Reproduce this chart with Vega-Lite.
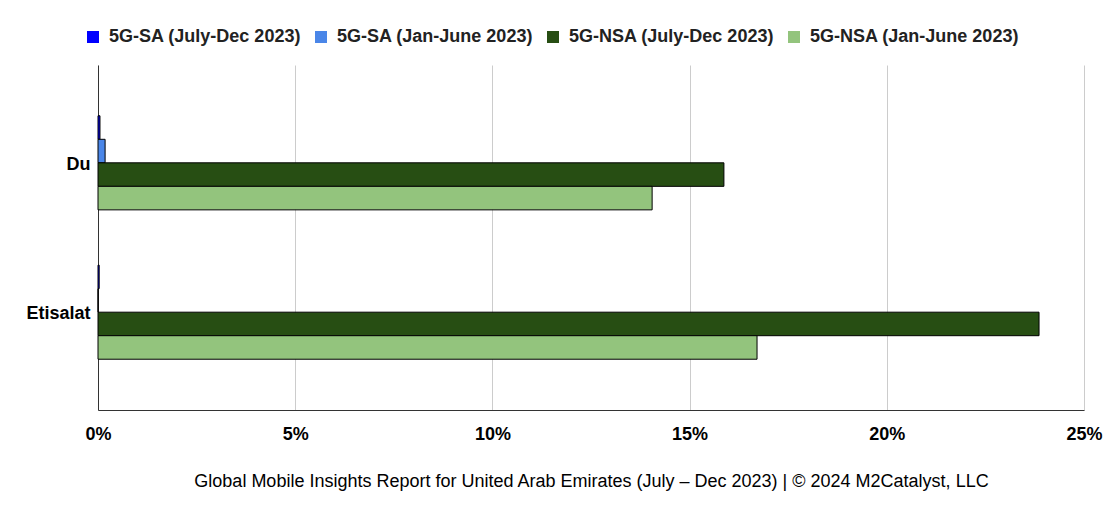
{
  "$schema": "https://vega.github.io/schema/vega-lite/v6.json",
  "width": 986,
  "height": 345,
  "autosize": {"type": "none"},
  "padding": {"left": 98, "top": 65, "right": 26, "bottom": 107},
  "background": "white",
  "config": {
    "font": "Liberation Sans",
    "view": {"stroke": null},
    "axis": {"labelFont": "Liberation Sans", "titleFont": "Liberation Sans"},
    "legend": {"labelFont": "Liberation Sans"}
  },
  "data": {
    "values": [
      {"operator": "Du", "network": "5G-SA (July-Dec 2023)", "share": 0.0005},
      {"operator": "Du", "network": "5G-SA (Jan-June 2023)", "share": 0.0018},
      {"operator": "Du", "network": "5G-NSA (July-Dec 2023)", "share": 0.1587},
      {"operator": "Du", "network": "5G-NSA (Jan-June 2023)", "share": 0.1405},
      {"operator": "Etisalat", "network": "5G-SA (July-Dec 2023)", "share": 0.0003},
      {"operator": "Etisalat", "network": "5G-SA (Jan-June 2023)", "share": 0},
      {"operator": "Etisalat", "network": "5G-NSA (July-Dec 2023)", "share": 0.2386},
      {"operator": "Etisalat", "network": "5G-NSA (Jan-June 2023)", "share": 0.1671}
    ]
  },
  "mark": {"type": "bar", "stroke": "#000000", "strokeWidth": 1},
  "encoding": {
    "y": {
      "field": "operator",
      "type": "nominal",
      "sort": ["Du", "Etisalat"],
      "title": null,
      "scale": {"paddingInner": 0.37, "paddingOuter": 0.34},
      "axis": {
        "ticks": false,
        "labelFontSize": 18,
        "labelFontWeight": "bold",
        "labelColor": "#000000",
        "labelPadding": 8,
        "labelOffset": 2,
        "domainColor": "#333333",
        "domainWidth": 1
      }
    },
    "yOffset": {
      "field": "network",
      "type": "nominal",
      "sort": ["5G-SA (July-Dec 2023)", "5G-SA (Jan-June 2023)", "5G-NSA (July-Dec 2023)", "5G-NSA (Jan-June 2023)"],
      "scale": {"paddingInner": 0, "paddingOuter": 0}
    },
    "x": {
      "field": "share",
      "type": "quantitative",
      "scale": {"domain": [0, 0.25]},
      "title": "Global Mobile Insights Report for United Arab Emirates (July – Dec 2023) | © 2024 M2Catalyst, LLC",
      "axis": {
        "format": ".0%",
        "values": [0, 0.05, 0.1, 0.15, 0.2, 0.25],
        "ticks": false,
        "labelFontSize": 18,
        "labelFontWeight": "bold",
        "labelColor": "#000000",
        "labelPadding": 15,
        "labelFlush": false,
        "domainColor": "#333333",
        "gridColor": "#cccccc",
        "titleFontSize": 18,
        "titleFontWeight": "normal",
        "titleColor": "#000000",
        "titlePadding": 29
      }
    },
    "color": {
      "field": "network",
      "type": "nominal",
      "scale": {
        "domain": ["5G-SA (July-Dec 2023)", "5G-SA (Jan-June 2023)", "5G-NSA (July-Dec 2023)", "5G-NSA (Jan-June 2023)"],
        "range": ["#0000ff", "#4a86e8", "#274e13", "#93c47d"]
      },
      "legend": {
        "title": null,
        "orient": "none",
        "legendX": -14,
        "legendY": -37,
        "direction": "horizontal",
        "columns": 4,
        "columnPadding": 10,
        "symbolType": "square",
        "symbolSize": 144,
        "symbolStrokeWidth": 0,
        "labelFontSize": 18,
        "labelFontWeight": "bold",
        "labelColor": "#222222",
        "labelOffset": 7,
        "labelLimit": 400
      }
    }
  }
}
